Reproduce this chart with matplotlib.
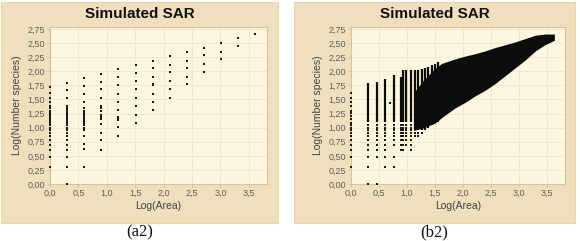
import matplotlib
matplotlib.use('Agg')
import matplotlib.pyplot as plt
from matplotlib.patches import Rectangle
from matplotlib.ticker import FuncFormatter, MultipleLocator

# ---- (a2) data: log(area) columns and log(number species) values
a2_x = [0.0, 0.30, 0.60, 0.90, 1.20, 1.51, 1.81, 2.11, 2.41, 2.71, 3.01, 3.31, 3.61]
a2_y = [
    [0.30, 0.48, 0.60, 0.70, 0.78, 0.85, 0.90, 0.95, 1.00, 1.04, 1.08, 1.11, 1.15,
     1.18, 1.20, 1.23, 1.26, 1.28, 1.30, 1.34, 1.38, 1.45, 1.53, 1.62, 1.72],
    [0.0, 0.30, 0.48, 0.61, 0.70, 0.78, 0.85, 0.90, 0.95, 0.98, 1.00, 1.04, 1.08,
     1.11, 1.15, 1.18, 1.20, 1.23, 1.26, 1.28, 1.31, 1.35, 1.38, 1.53, 1.66, 1.80],
    [0.30, 0.62, 0.71, 0.85, 0.96, 1.00, 1.04, 1.08, 1.11, 1.15, 1.18, 1.20, 1.23,
     1.26, 1.28, 1.30, 1.34, 1.46, 1.60, 1.74, 1.88],
    [0.61, 0.78, 0.91, 1.06, 1.15, 1.18, 1.22, 1.30, 1.34, 1.39, 1.53, 1.68, 1.81, 1.96],
    [0.85, 1.01, 1.13, 1.16, 1.19, 1.31, 1.46, 1.60, 1.75, 1.89, 2.04],
    [1.09, 1.22, 1.38, 1.53, 1.68, 1.82, 1.97, 2.12],
    [1.31, 1.46, 1.60, 1.75, 1.77, 1.90, 2.05, 2.19],
    [1.53, 1.68, 1.82, 1.98, 2.12, 2.27],
    [1.77, 1.90, 2.05, 2.19, 2.34],
    [1.98, 2.13, 2.28, 2.42],
    [2.21, 2.35, 2.51],
    [2.44, 2.59],
    [2.66],
]

# ---- (b2) data
b2_edge_y = [0.30, 0.48, 0.60, 0.70, 0.78, 0.85, 0.90, 0.95, 1.00, 1.04, 1.08, 1.15,
             1.20, 1.26, 1.30, 1.38, 1.45, 1.53, 1.62]
b2_bar_x = [0.30, 0.47, 0.61, 0.77, 0.89, 0.93, 0.99, 1.07, 1.15, 1.20, 1.26, 1.32,
            1.38, 1.44, 1.50, 1.56]
b2_bar_top = [1.79, 1.81, 1.87, 1.94, 1.90, 2.03, 2.03, 2.03, 2.03, 2.03, 2.04, 2.06,
              2.08, 2.11, 2.13, 2.16]
b2_bar_bottom = [1.10, 1.10, 1.10, 1.10, 1.10, 1.10, 1.10, 1.10, 0.96, 0.96, 0.96, 0.96,
                 1.00, 1.04, 1.08, 1.10]
b2_dots = [
    [0.0, 0.30, 0.48, 0.60, 0.70, 0.78, 0.85, 0.90, 0.95, 1.00, 1.04],
    [0.0, 0.48, 0.60, 0.70, 0.78, 0.85, 0.90, 0.95, 1.00, 1.04],
    [0.30, 0.48, 0.60, 0.70, 0.78, 0.85, 0.90, 0.95, 1.00, 1.04],
    [0.30, 0.48, 0.70, 0.78, 0.85, 0.90, 0.95, 1.00, 1.04],
    [0.60, 0.70, 0.78, 0.85, 0.90, 0.95, 1.00, 1.04],
    [0.60, 0.70, 0.78, 0.85, 0.90, 0.95, 1.00, 1.04],
    [0.70, 0.78, 0.85, 0.90, 0.95, 1.00, 1.04],
    [0.60, 0.70, 0.78, 0.85, 0.90, 0.95, 1.00, 1.04],
    [0.85, 0.90],
    [0.85, 0.90],
    [0.90],
    [], [], [], [], [],
]
b2_outlier = (0.70, 1.43)
# dense cloud envelope
b2_dense_x = [1.12, 1.30, 1.50, 1.62, 1.86, 2.04, 2.21, 2.39, 2.57, 2.75, 2.93,
              3.11, 3.29, 3.46, 3.63]
b2_dense_top = [1.62, 1.85, 2.05, 2.14, 2.22, 2.27, 2.31, 2.36, 2.42, 2.47, 2.52,
                2.58, 2.64, 2.66, 2.66]
b2_dense_bottom = [0.95, 1.00, 1.08, 1.18, 1.35, 1.45, 1.56, 1.66, 1.78, 1.92, 2.06,
                   2.20, 2.36, 2.47, 2.55]

# ---- styles
frame_col = '#efdfbd'
plot_col = '#fdf7e1'
grid_col = '#f1e6c8'
spine_col = '#d6c49c'
dot_col = '#1a1a14'
tick_col = '#5e5e5e'
label_col = '#444444'

plt.rcParams['font.family'] = ['Liberation Sans', 'DejaVu Sans']

fig = plt.figure(figsize=(5.8, 2.41), dpi=100)
W, H = 580, 241


def fig_rect(x0, y0, x1, y1):
    # pixel box (top-left origin) -> figure fraction
    return [x0 / W, 1 - y1 / H, (x1 - x0) / W, (y1 - y0) / H]


comma1 = FuncFormatter(lambda v, p: f'{v:.1f}'.replace('.', ','))
comma2 = FuncFormatter(lambda v, p: f'{v:.2f}'.replace('.', ','))

panels = [
    dict(frame=(1, 2, 278, 223), axes=(50, 27.3, 267, 184), cap='(a2)'),
    dict(frame=(294, 2, 575, 223), axes=(351, 27.3, 565, 184), cap='(b2)'),
]

axes = []
for p in panels:
    fx0, fy0, fx1, fy1 = p['frame']
    r = fig_rect(fx0, fy0, fx1, fy1)
    fig.patches.append(Rectangle((r[0], r[1]), r[2], r[3], transform=fig.transFigure,
                                 facecolor=frame_col, edgecolor='#e8d6b0', lw=0.8,
                                 zorder=-5))
    ax = fig.add_axes(fig_rect(*p['axes']))
    ax.set_zorder(1)
    ax.set_facecolor(plot_col)
    ax.set_xlim(0, 3.82)
    ax.set_ylim(0, 2.78)
    ax.xaxis.set_major_locator(MultipleLocator(0.5))
    ax.yaxis.set_major_locator(MultipleLocator(0.25))
    ax.xaxis.set_major_formatter(comma1)
    ax.yaxis.set_major_formatter(comma2)
    ax.tick_params(labelsize=6.5, labelcolor=tick_col, color=spine_col, length=2,
                   width=0.8, pad=1.5)
    ax.grid(True, color=grid_col, lw=0.6)
    ax.set_axisbelow(True)
    for s in ax.spines.values():
        s.set_color(spine_col)
        s.set_linewidth(0.8)
    ax.set_xlabel('Log(Area)', fontsize=7.5, color=label_col, labelpad=2)
    ax.set_ylabel('Log(Number species)', fontsize=7.5, color=label_col, labelpad=4)
    fig.text(((fx0 + fx1) / 2) / W, 1 - 14 / H, 'Simulated SAR', ha='center',
             va='center', fontsize=11, fontweight='bold', color='#111111')
    fig.text(((fx0 + fx1) / 2) / W, 1 - 232 / H, p['cap'], ha='center', va='center',
             fontsize=12, family='Liberation Serif', color='#111111')
    axes.append(ax)

# (a2) scatter
ax = axes[0]
for x, ys in zip(a2_x, a2_y):
    ax.plot([x] * len(ys), ys, 's', ms=1.6, color=dot_col, mew=0, clip_on=False,
            zorder=3)

# (b2) dense cloud
ax = axes[1]
ax.plot([0.0] * len(b2_edge_y), b2_edge_y, 's', ms=1.6, color=dot_col, mew=0,
        clip_on=False, zorder=3)
ax.fill_between(b2_dense_x, b2_dense_bottom, b2_dense_top, color='#0b0d0a', lw=0,
                zorder=2)
ax.vlines(b2_bar_x, b2_bar_bottom, b2_bar_top, color='#0b0d0a', lw=1.6, zorder=3)
for x, ys in zip(b2_bar_x, b2_dots):
    if ys:
        ax.plot([x] * len(ys), ys, 's', ms=1.6, color=dot_col, mew=0, clip_on=False,
                zorder=3)
ax.plot([b2_outlier[0]], [b2_outlier[1]], 's', ms=1.6, color=dot_col, mew=0, zorder=3)

fig.savefig('out.png', dpi=100, facecolor='white')
